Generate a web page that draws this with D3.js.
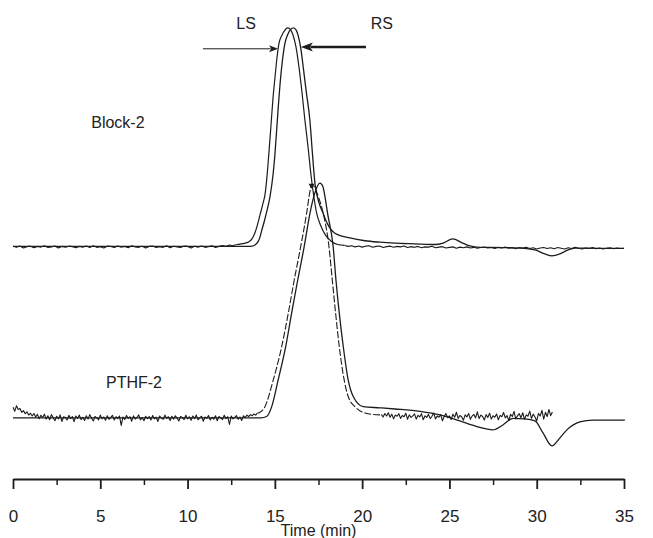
<!DOCTYPE html>
<html>
<head>
    <meta charset="utf-8">
    <title>GPC traces: Block-2 and PTHF-2</title>
    <style>
        body {
            margin: 0;
            background: #fff;
            font-family: "Liberation Sans", Arial, sans-serif;
        }
        svg text {
            fill: #222;
        }
    </style>
</head>
<body>
    <div id="chart"></div>

    <script src="https://d3js.org/d3.v7.min.js"></script>
    <script>
    // ---- data (time in min, detector response in arbitrary units) ----

    // Block-2, LS trace (noisy): baseline samples, peak, baseline samples
    const lsLeftStart = 0, lsLeftStep = 0.2;
    const lsLeftBase = [
        0.3, -0.2, 0.4, -0.5, 0.1, 0.3, -0.4, 0.2, -0.1, 0.5, -0.3, 0.0, 0.4, -0.5, 0.2, -0.2, 0.3, 0.1, -0.4, 0.2,
        -0.1, 0.4, -0.3, 0.5, -0.2, 0.1, -0.5, 0.3, 0.2, -0.3, 0.4, -0.1, 0.2, -0.4, 0.5, 0.0, -0.2, 0.3, -0.5, 0.2,
        0.4, -0.3, 0.1, -0.2, 0.5, -0.4, 0.3, 0.0, -0.3, 0.4, 0.2, -0.5, 0.3, -0.1, 0.4, -0.2, 0.1, 0.5, -0.3, 0.2,
        0.6, 0.3, 0.8, 0.5, 1.0
    ];
    const lsPeak = [
        [13.0, 1.2], [13.29, 1.6], [13.52, 2.2], [13.69, 3.4], [13.86, 6.0], [13.97, 8.5], [14.15, 13.6],
        [14.32, 18.5], [14.43, 22.0], [14.55, 30.0], [14.66, 40.0], [14.78, 51.9], [14.89, 63.0], [15.01, 72.3],
        [15.12, 80.4], [15.23, 86.4], [15.41, 90.2], [15.58, 92.3], [15.73, 93.2], [15.86, 92.8], [16.04, 90.2],
        [16.21, 85.1], [16.38, 76.6], [16.55, 66.0], [16.72, 54.0], [16.90, 42.6], [17.07, 30.6], [17.24, 21.0],
        [17.39, 14.5], [17.6, 9.5], [17.9, 5.0], [18.25, 2.3], [18.6, 1.0], [18.8, 0.8]
    ];
    const lsRightStart = 19.0, lsRightStep = 0.2;
    const lsRightBase = [
        0.6, 0.2, 0.5, 0.0, 0.4, -0.1, 0.3, 0.5, -0.2, 0.2, 0.4, -0.3, 0.1, 0.3, -0.2, 0.2, 0.0, 0.4, -0.3, 0.1,
        -0.2, 0.2, -0.4, 0.0, -0.1, 0.3, -0.4, -0.1, 0.1, -0.5, -0.2, 0.0, -0.6, -0.1, -0.4, 0.0, -0.5, -0.2, -0.6, -0.3,
        -0.1, -0.5, -0.3, -0.7, -0.2, -0.5, -0.1, -0.6, -0.4, -0.8, -0.3, -0.5, -0.2, -0.7, -0.4, -0.9, -0.5, -0.3, -0.7, -0.4,
        -0.8, -0.3, -0.6, -0.9, -0.4, -0.7, -0.2, -0.6, -0.9, -0.5, -0.7, -0.3, -0.8, -0.5, -0.9, -0.6, -0.4, -0.8, -0.5, -0.7,
        -0.6
    ];

    // Block-2, RS trace (smooth)
    const rsTrace = [
        [0, 0.2], [6, 0.2], [13.5, 0.2], [13.7, 0.3], [13.86, 0.8], [14.0, 1.8], [14.12, 3.5], [14.24, 6.8],
        [14.4, 11.0], [14.55, 15.5], [14.72, 21.3], [14.9, 31.0], [15.0, 39.0], [15.1, 49.4], [15.2, 60.0],
        [15.33, 72.0], [15.45, 80.4], [15.57, 86.4], [15.75, 90.6], [15.9, 92.5], [16.05, 93.2], [16.2, 92.5],
        [16.35, 89.5], [16.49, 84.3], [16.65, 75.0], [16.8, 66.0], [17.01, 53.6], [17.15, 40.0], [17.30, 26.8],
        [17.5, 19.5], [17.75, 14.5], [18.0, 10.0], [18.44, 5.8], [19.3, 3.8], [20.16, 2.6], [21.02, 2.0],
        [21.88, 1.6], [23.0, 1.3], [24.2, 1.0], [24.6, 1.5], [25.2, 3.4], [25.72, 1.7], [26.17, 0.4],
        [26.75, -0.2], [28.0, -0.3], [29.04, -0.5], [29.9, -1.3], [30.47, -3.0], [30.87, -3.8], [31.33, -3.0],
        [31.79, -1.3], [32.19, -0.5], [33.62, -0.6], [35.0, -0.6]
    ];

    // PTHF-2, noisy trace
    const ptLeftStart = 0, ptLeftStep = 0.1;
    const ptLeftBase = [
        4.5, 2.8, 5.2, 3.6, 4.0, 2.4, 3.1, 1.8, 2.6, 1.2, 2.0, 0.8, 1.9, 0.4, 1.5, -0.3, 1.1, 0.2, 1.6, -0.5,
        0.9, -0.8, 1.4, 0.1, -1.2, 0.7, -0.4, 1.3, -1.5, 0.5, 0.2, -0.9, 1.1, -0.3, 0.6, -1.6, 0.8, -0.2, 1.2, -0.7,
        0.3, -1.1, 0.9, -0.5, 1.4, -0.1, -1.3, 0.6, 0.0, -0.8, 1.2, -0.4, 0.4, -1.0, 0.9, -0.6, 0.2, 1.1, -0.9, 0.5,
        -0.3, 0.8, -3.2, 0.4, -0.7, 1.0, -0.2, 0.5, -1.4, 0.9, -0.5, 0.2, 1.3, -0.8, 0.1, -1.2, 0.7, -0.3, 0.6, -0.9,
        1.0, -0.4, 0.3, -1.5, 0.8, 0.0, -0.6, 1.2, -0.2, 0.5, -1.1, 0.7, -0.5, 0.9, -0.1, -1.3, 0.6, 0.2, -0.7, 1.1,
        -0.4, 0.5, -1.0, 0.8, -0.3, 1.2, -0.8, 0.1, 0.7, -1.4, 0.4, -0.2, 1.0, -0.9, 0.3, -0.5, 0.9, -1.2, 0.6, 0.0,
        -0.7, 1.1, -0.3, 0.5, -2.8, 0.8, -0.4, 0.2, 1.0, -0.6, 0.4, -1.1, 0.9, 0.1, 1.2, 0.6, 1.4, 0.9, 1.7, 1.2, 2.0
    ];
    const ptPeak = [
        [14.15, 2.4], [14.43, 4.8], [14.91, 16.2], [15.39, 30.3], [15.77, 44.6], [16.11, 58.7], [16.48, 72.9],
        [16.82, 87.1], [17.0, 96.0], [17.11, 99.1], [17.25, 98.5], [17.49, 94.2], [17.77, 87.1], [18.10, 72.9],
        [18.29, 58.7], [18.48, 44.6], [18.69, 30.3], [18.97, 16.2], [19.20, 9.1], [19.59, 4.8], [20.16, 2.1],
        [21.02, 1.3]
    ];
    const ptRightStart = 21.1, ptRightStep = 0.1;
    const ptRightBase = [
        1.5, 0.4, 1.9, 0.8, 2.2, 0.3, 1.6, -0.4, 1.2, 0.7, 1.8, -0.2, 1.0, 0.5, 2.0, -0.6, 1.3, 0.2, 0.9, 1.7,
        -0.5, 1.1, 0.4, 1.8, -0.8, 0.9, 0.2, 1.5, -0.3, 0.7, 2.1, -0.4, 0.8, 0.3, 1.4, -1.2, 0.6, 1.9, 0.1, 0.9,
        -0.7, 1.6, 0.3, 2.4, -0.2, 1.0, 0.5, -1.0, 1.3, 0.4, 1.9, -0.6, 0.8, 1.5, 0.0, 2.6, -0.3, 1.2, 0.6, -0.9,
        1.4, 0.2, 2.0, -0.5, 0.9, 0.3, 1.7, -0.8, 1.1, 0.5, 2.3, 0.0, 1.0, -1.1, 1.5, 0.6, 2.8, -0.4, 0.9, 1.8,
        0.1, 2.2, -0.6, 1.3, 0.7, 2.9, -0.2, 1.6, 0.4, -1.3, 1.9, 0.8, 3.2, -0.5, 2.4, 0.6, 3.6, 1.0, 2.5
    ];

    // PTHF-2, smooth trace
    const ptSmooth = [
        [0, 0], [5, 0], [10, 0], [14.2, 0], [14.53, 0.6], [14.82, 4.8], [15.19, 16.2], [15.62, 30.3],
        [15.96, 44.6], [16.31, 58.7], [16.68, 72.9], [17.01, 87.1], [17.3, 96.0], [17.58, 99.9], [17.75, 98.5],
        [17.87, 94.2], [18.02, 87.1], [18.34, 72.9], [18.50, 58.7], [18.69, 44.6], [18.92, 30.3], [19.20, 16.2],
        [19.49, 9.1], [20.06, 4.8], [21.02, 4.3], [21.88, 3.8], [23.31, 2.8], [24.46, 1.3], [25.60, -1.3],
        [26.57, -3.7], [27.49, -5.1], [28.06, -3.0], [28.64, -0.2], [29.32, -0.4], [29.9, -1.3], [30.36, -6.4],
        [30.87, -11.9], [31.33, -8.5], [31.73, -5.1], [32.47, -1.7], [33.22, -0.9], [35.05, -0.9]
    ];

    // vertical offset of the Block-2 traces
    const blockOffset = 72.8;

    // axis ticks
    const majorTicks = [0, 5, 10, 15, 20, 25, 30, 35];
    const minorTicks = [2.5, 7.5, 12.5, 17.5, 22.5, 27.5, 32.5];

    // labels: [text, time, response]
    const labels = [
        ["LS", 13.35, 165.5],
        ["RS", 21.13, 165.5],
        ["Block-2", 6.01, 123.4],
        ["PTHF-2", 6.93, 12.8]
    ];

    // arrows: [tail time, tip time, response, thick]
    const arrows = [
        [10.88, 15.18, 84.3 + blockOffset, false],
        [20.22, 16.49, 85.1 + blockOffset, true]
    ];

    // ---- drawing ----
    const width = 653, height = 538;

    const svg = d3.select("#chart").append("svg")
        .attr("width", width)
        .attr("height", height);

    const x = d3.scaleLinear().domain([0, 35]).range([13, 624]);
    const y = d3.scaleLinear().domain([-26, 170]).range([479, 18.5]);

    const sampled = (start, step, vals) => vals.map((v, i) => [start + i * step, v]);

    const lineLin = off => d3.line()
        .x(d => x(d[0]))
        .y(d => y(d[1] + off));
    const lineSmooth = off => d3.line()
        .x(d => x(d[0]))
        .y(d => y(d[1] + off))
        .curve(d3.curveMonotoneX);

    const ink = "#1c1c1c";

    function drawPath(data, gen, w, dash) {
        const p = svg.append("path")
            .datum(data)
            .attr("d", gen)
            .attr("fill", "none")
            .attr("stroke", ink)
            .attr("stroke-width", w)
            .attr("stroke-linejoin", "round");
        if (dash) p.attr("stroke-dasharray", dash);
        return p;
    }

    // Block-2 LS (noisy)
    const lsA = sampled(lsLeftStart, lsLeftStep, lsLeftBase);
    const lsB = sampled(lsRightStart, lsRightStep, lsRightBase);
    drawPath(lsA, lineLin(blockOffset), 1.1);
    drawPath([lsA[lsA.length - 1], ...lsPeak, lsB[0]], lineSmooth(blockOffset), 1.2);
    drawPath(lsB, lineLin(blockOffset), 1.1);

    // Block-2 RS (smooth)
    drawPath(rsTrace, lineSmooth(blockOffset), 1.3);

    // PTHF-2 noisy
    const ptA = sampled(ptLeftStart, ptLeftStep, ptLeftBase);
    const ptB = sampled(ptRightStart, ptRightStep, ptRightBase);
    drawPath(ptA, lineLin(0), 1.1);
    drawPath([ptA[ptA.length - 1], ...ptPeak, ptB[0]], lineSmooth(0), 1.1, "7,2");
    drawPath(ptB, lineLin(0), 1.1);

    // PTHF-2 smooth
    drawPath(ptSmooth, lineSmooth(0), 1.3);

    // small arrow mark at the PTHF-2 peak
    svg.append("path")
        .attr("d", `M${x(17.1) - 3},${y(97.5) - 5}L${x(17.1) + 3},${y(97.5) - 5}L${x(17.1)},${y(97.5)}Z`)
        .attr("fill", ink);

    // LS / RS arrows
    arrows.forEach(([t0, t1, v, thick]) => {
        const x0 = x(t0), x1 = x(t1), yy = y(v);
        const dir = Math.sign(x1 - x0);
        const len = thick ? 12 : 9, half = thick ? 4.5 : 3.5;
        svg.append("line")
            .attr("x1", x0).attr("x2", x1 - dir * len * 0.8)
            .attr("y1", yy).attr("y2", yy)
            .attr("stroke", ink)
            .attr("stroke-width", thick ? 2.6 : 1);
        svg.append("path")
            .attr("d", `M${x1},${yy}L${x1 - dir * len},${yy - half}L${x1 - dir * len * 0.75},${yy}L${x1 - dir * len},${yy + half}Z`)
            .attr("fill", ink);
    });

    // text labels
    svg.selectAll(".lab")
        .data(labels)
        .enter().append("text")
        .attr("class", "lab")
        .attr("x", d => x(d[1]))
        .attr("y", d => y(d[2]))
        .attr("text-anchor", "middle")
        .style("font-size", "16px")
        .text(d => d[0]);

    // x axis: major + minor ticks
    const axisY = y.range()[0];
    const gx = svg.append("g")
        .attr("transform", `translate(0,${axisY})`)
        .call(d3.axisBottom(x)
            .tickValues(majorTicks)
            .tickSize(10)
            .tickSizeOuter(0)
            .tickPadding(21)
            .tickFormat(d3.format("d")));
    gx.attr("font-size", 17).attr("font-family", "'Liberation Sans', Arial, sans-serif");
    gx.select(".domain").attr("stroke", ink).attr("stroke-width", 2);
    gx.selectAll(".tick line").attr("stroke", ink).attr("stroke-width", 1.8);
    gx.selectAll(".tick text").attr("fill", "#222");

    const gm = svg.append("g")
        .attr("transform", `translate(0,${axisY})`)
        .call(d3.axisBottom(x)
            .tickValues(minorTicks)
            .tickSize(6)
            .tickFormat(""));
    gm.select(".domain").remove();
    gm.selectAll(".tick line").attr("stroke", ink).attr("stroke-width", 1.5);

    // axis title
    svg.append("text")
        .attr("x", (x.range()[0] + x.range()[1]) / 2)
        .attr("y", 536)
        .attr("text-anchor", "middle")
        .style("font-size", "16px")
        .text("Time (min)");
    </script>
</body>
</html>
